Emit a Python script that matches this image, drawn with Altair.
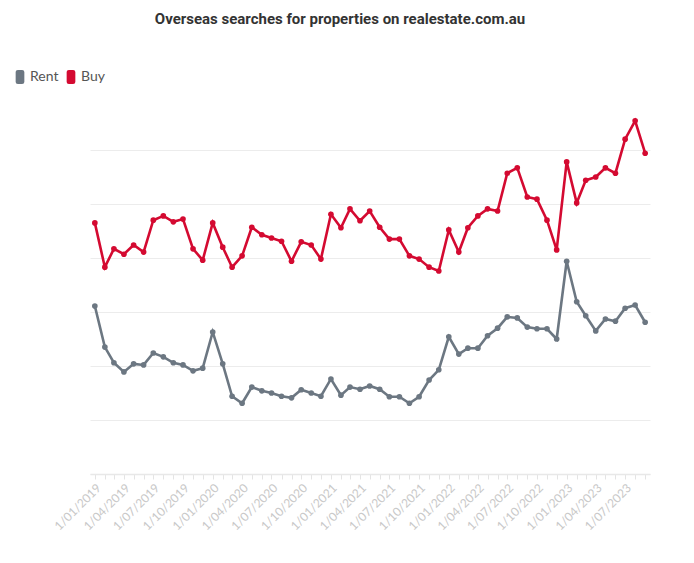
import altair as alt
import pandas as pd

months = [f"{y}-{m:02d}-01T00:00:00" for y in range(2019, 2024) for m in range(1, 13)][:57]

rent = [311, 235, 206, 189, 204, 202, 224, 217, 206, 202, 191, 196, 263, 204, 144, 131,
        161, 154, 150, 144, 141, 156, 150, 144, 176, 146, 161, 157, 163, 157, 143, 143,
        131, 143, 174, 193, 254, 222, 233, 233, 256, 270, 291, 289, 272, 269, 269, 250,
        394, 319, 293, 265, 287, 283, 307, 313, 281]

buy = [465, 383, 417, 407, 424, 411, 470, 478, 467, 472, 417, 396, 465, 420, 383, 404,
       457, 443, 437, 431, 394, 430, 424, 398, 481, 456, 491, 469, 487, 457, 435, 435,
       404, 398, 383, 376, 452, 411, 456, 478, 491, 487, 557, 567, 513, 509, 470, 415,
       578, 502, 544, 550, 567, 557, 620, 654, 594]

series_names = ["Rent", "Buy"]
series_colors = ["#6c7782", "#d40a31"]

labels = ["Rent"] * len(rent) + ["Buy"] * len(buy)
df = pd.DataFrame({
    "date": months * 2,
    "value": rent + buy,
    "series": labels,
    "line_series": labels,
})

pill = ("M-0.62,-0.7 Q-0.62,-1 -0.3,-1 L0.3,-1 Q0.62,-1 0.62,-0.7 L0.62,0.7 "
        "Q0.62,1 0.3,1 L-0.3,1 Q-0.62,1 -0.62,0.7 Z")

x_enc = alt.X(
    "date:T",
    scale=alt.Scale(domain=[alt.DateTime(year=2018, month=12, date=17),
                            alt.DateTime(year=2023, month=9, date=16)]),
    axis=alt.Axis(
        title=None,
        tickCount={"interval": "month", "step": 1},
        labelExpr="month(datum.value) % 3 == 0 ? '1/' + timeFormat(datum.value, '%m/%Y') : ''",
        labelAngle=315,
        labelAlign="right",
        labelBaseline="top",
        labelPadding=3,
        labelOverlap=False,
        labelBound=False,
        labelFlush=False,
        labelColor="#c8c8c8",
        labelFont="Lato",
        labelFontSize=12,
        grid=False,
        domainColor="#e8e8e8",
        domainWidth=1.5,
        tickColor="#e4e4e4",
        tickSize=5,
    ),
)

y_enc = alt.Y(
    "value:Q",
    scale=alt.Scale(domain=[0, 700], nice=False),
    axis=alt.Axis(
        title=None,
        values=[0, 100, 200, 300, 400, 500, 600],
        labels=False,
        ticks=False,
        domain=False,
        grid=True,
        gridColor="#ececec",
        gridWidth=1,
    ),
)

lines = alt.Chart(df).mark_line(strokeWidth=2.6).encode(
    x=x_enc,
    y=y_enc,
    stroke=alt.Stroke("line_series:N", scale=alt.Scale(domain=series_names, range=series_colors), legend=None),
)

points = alt.Chart(df).mark_point(filled=True, size=32, opacity=1).encode(
    x=x_enc,
    y=y_enc,
    color=alt.Color(
        "series:N",
        scale=alt.Scale(domain=series_names, range=series_colors),
        legend=alt.Legend(
            title=None,
            orient="none",
            legendX=-77,
            legendY=-26,
            direction="horizontal",
            symbolType=pill,
            symbolSize=196,
            symbolStrokeWidth=0,
            symbolOpacity=1,
            labelFont="Lato",
            labelFontSize=14,
            labelColor="#555555",
            labelOffset=3,
            columnPadding=5,
        ),
    ),
)

chart = alt.layer(lines, points).properties(
    width=560,
    height=378,
    title=alt.TitleParams(
        "Overseas searches for properties on realestate.com.au",
        anchor="middle",
        frame="group",
        dx=-30,
        offset=43,
        font="Roboto",
        fontSize=15,
        fontWeight="bold",
        color="#333333",
    ),
    autosize=alt.AutoSizeParams(type="none"),
    padding={"left": 82, "top": 88, "right": 30, "bottom": 70},
).resolve_scale(color="independent", stroke="independent").configure_view(stroke=None)

chart.save("out.html", embed_options={"renderer": "svg", "actions": False})
